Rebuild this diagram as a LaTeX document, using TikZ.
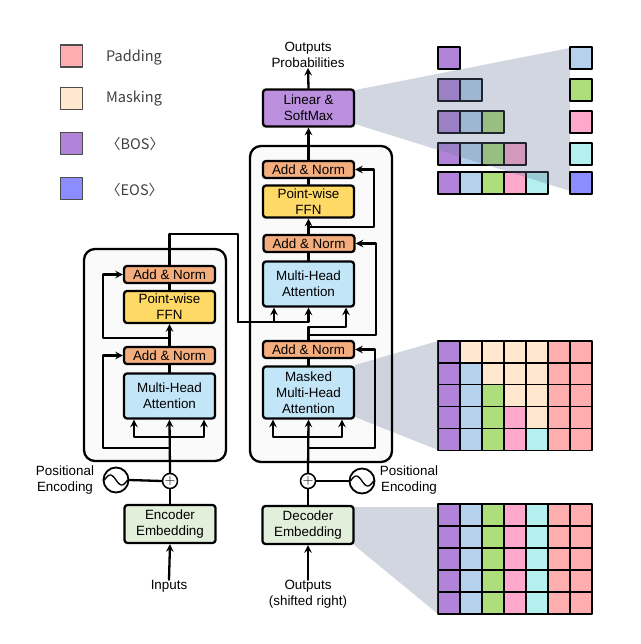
\documentclass[tikz,border=0pt]{standalone}
\usepackage{fontspec}
\setmainfont{Liberation Sans}
\newfontfamily\cjk{Noto Sans CJK SC}
\definecolor{bos}{HTML}{B284D9}
\definecolor{tka}{HTML}{B5D1EC}
\definecolor{tkb}{HTML}{AEDD7B}
\definecolor{tkc}{HTML}{FFA8CE}
\definecolor{tkd}{HTML}{B3F0EE}
\definecolor{eos}{HTML}{8C8CFF}
\definecolor{pad}{HTML}{FFAEB0}
\definecolor{msk}{HTML}{FFE8CE}
\definecolor{wedge}{HTML}{6B7899}
\tikzset{
	block/.style={draw,rounded corners=3pt,line width=2.3pt,align=center,inner sep=0pt,minimum width=91pt},
	addnorm/.style={block,fill={rgb,255:red,244;green,174;blue,126},minimum height=17pt},
	ffn/.style={block,fill={rgb,255:red,255;green,217;blue,102},minimum height=32pt},
	attn/.style={block,fill={rgb,255:red,194;green,230;blue,248}},
	embed/.style={block,fill={rgb,255:red,226;green,239;blue,218},minimum height=38pt},
	proj/.style={block,fill={rgb,255:red,187;green,143;blue,221},minimum height=37pt},
	oplus/.style={draw,circle,fill=white,line width=1.5pt,minimum size=15pt,inner sep=0pt},
	wave/.style={draw,circle,fill=white,line width=1.8pt,minimum size=25pt,inner sep=0pt},
	cell/.style={draw=black,line width=1.2pt},
	swatch/.style={draw=black!70,line width=1.4pt,minimum size=22pt,inner sep=0pt},
	legend/.style={text=black!75,font=\cjk\fontsize{14.5}{16}\selectfont,anchor=west,inner sep=0pt},
	caption/.style={align=center,inner sep=0pt},
	frame/.style={rounded corners=11pt}
}
\begin{document}
\begin{tikzpicture}[>=stealth,line join=round,line cap=round,x=1pt,y=-1pt,font=\fontsize{13.4}{16}\selectfont]
		\useasboundingbox (0,0) rectangle (640,644);
		\def\sq(#1,#2,#3){\draw[cell,fill=#3] (#1,#2) rectangle ++(22,22);}
		% legend
		\node[swatch,fill=pad] (lpad) at (71.5,56) {};
		\node[swatch,fill=msk] (lmsk) at (71.5,98.5) {};
		\node[swatch,fill=bos] (lbos) at (71.5,143.5) {};
		\node[swatch,fill=eos] (leos) at (71.5,188.5) {};
		\node[legend] (tpad) at (106,57.5) {Padding};
		\node[legend] (tmsk) at (106,99) {Masking};
		\node[legend] (tbos) at (106,144) {〈BOS〉};
		\node[legend] (teos) at (106,190) {〈EOS〉};
		% token cells on top right
		\sq(438,47,bos)
		\sq(438,79,bos) \sq(460,79,tka)
		\sq(438,111,bos) \sq(460,111,tka) \sq(482,111,tkb)
		\sq(438,143,bos) \sq(460,143,tka) \sq(482,143,tkb) \sq(504,143,tkc)
		\sq(438,172,bos) \sq(460,172,tka) \sq(482,172,tkb) \sq(504,172,tkc) \sq(526,172,tkd)
		% the two grids
		\foreach \r [count=\j from 0] in {1,2,3,4,5}{
			\foreach \c [count=\i from 0] in {bos,tka,tkb,tkc,tkd,pad,pad}{
				\ifnum\i<\r \def\k{\c}\else\ifnum\i>4 \def\k{pad}\else\def\k{msk}\fi\fi
				\draw[cell,fill=\k] ({438+22*\i},{341+21.9*\j}) rectangle ++(22,21.9);
				\draw[cell,fill=\c] ({438+22*\i},{504+22*\j}) rectangle ++(22,22);
			}
		}
		% frames
		\fill[frame,black!2] (84,249) rectangle (226,461);
		\fill[frame,black!2] (250,146) rectangle (392,462);
		% wedges
		\fill[wedge,opacity=0.3] (355,90)--(570,48)--(570,191)--(355,124)--cycle;
		\fill[wedge,opacity=0.3] (355,365)--(438,341)--(438,450)--(355,417)--cycle;
		\fill[wedge,opacity=0.3] (354,507)--(438,507)--(438,614)--(354,545)--cycle;
		\draw[frame,line width=2.3pt] (84,249) rectangle (226,461);
		\draw[frame,line width=2.3pt] (250,146) rectangle (392,462);
		\sq(570,47,tka) \sq(570,79,tkb) \sq(570,111,tkc) \sq(570,143,tkd) \sq(570,172,eos)
		% encoder
		\node[addnorm] (ean2) at (169.5,274.5) {Add \& Norm};
		\node[ffn] (effn) at (169.5,307) {Point-wise\\FFN};
		\node[addnorm] (ean1) at (169.5,355.5) {Add \& Norm};
		\node[attn,minimum height=45pt] (emha) at (169.5,396) {Multi-Head\\Attention};
		\node[oplus] (eplus) at (170,481) {$+$};
		\node[wave] (ewave) at (116,480) {};
		\node[embed] (eemb) at (170,524) {Encoder\\Embedding};
		\node[caption] (einp) at (169,586) {Inputs};
		\node[caption] (epos) at (65,480.5) {Positional\\Encoding};
		% decoder
		\node[proj] (lin) at (308.5,108) {Linear \&\\SoftMax};
		\node[caption] (prob) at (308,55) {Outputs\\Probabilities};
		\node[addnorm] (dan3) at (308.5,169.5) {Add \& Norm};
		\node[ffn] (dffn) at (308.5,201.5) {Point-wise\\FFN};
		\node[addnorm] (dan2) at (309,243.5) {Add \& Norm};
		\node[attn,minimum height=45pt] (dmha) at (308.5,284) {Multi-Head\\Attention};
		\node[addnorm] (dan1) at (308.5,349.5) {Add \& Norm};
		\node[attn,minimum height=52pt] (dmsk) at (308.5,392.5) {Masked\\Multi-Head\\Attention};
		\node[oplus] (dplus) at (308,481) {$+$};
		\node[wave] (dwave) at (362,481) {};
		\node[embed] (demb) at (308,525) {Decoder\\Embedding};
		\node[caption] (dinp) at (308,594) {Outputs\\(shifted right)};
		\node[caption] (dpos) at (409,480.5) {Positional\\Encoding};
		% sine curves
		\def\f(#1){5*sin(#1*360/23)};
		\draw[line width=1.3pt,smooth,samples=40] plot[domain=-11.5:11.5]({116+\x},{480+\f(\x)});
		\draw[line width=1.3pt,smooth,samples=40] plot[domain=-11.5:11.5]({362+\x},{481+\f(\x)});
		% named points for the branches
		\coordinate (el) at (134,437);
		\coordinate (er) at (204,437);
		\coordinate (ea) at (103,448);
		\coordinate (eb) at (103,338);
		\coordinate (eu) at (238,234);
		\coordinate (dk) at (274,322);
		\coordinate (dl) at (273,437);
		\coordinate (dr) at (342,437);
		\coordinate (da) at (375,448);
		\coordinate (db) at (376,335);
		\coordinate (dc) at (374,227);
		\coordinate (dq) at (346,327);
		% encoder connectors
		\begin{scope}[line width=2.3pt]
		\draw[->] (einp.north)--(eemb.south);
		\draw (eemb.north)--(eplus.south);
		\draw (ewave.east)--(eplus.west);
		\draw[->] (eplus.north)--(emha.south);
		\draw[->] (el-|emha.south)--(el)--(el|-emha.south);
		\draw[->] (el-|emha.south)--(er)--(er|-emha.south);
		\draw[->] (ea-|emha.south)--(ea)--(ea|-ean1.west)--(ean1.west);
		\draw (emha.north)--(ean1.south);
		\draw[->] (ean1.north)--(effn.south);
		\draw[->] (eb-|effn.south)--(eb)--(eb|-ean2.west)--(ean2.west);
		\draw (effn.north)--(ean2.south);
		\draw (ean2.north)--(eu-|ean2.north)--(eu)--(eu|-dk);
		\draw[->] (eu|-dk)--(dk-|dmha.south)--(dmha.south);
		\draw[->] (dk)--(dk|-dmha.south);
		% decoder connectors
		\draw[->] (dinp.north)--(demb.south);
		\draw (demb.north)--(dplus.south);
		\draw (dwave.west)--(dplus.east);
		\draw[->] (dplus.north)--(dmsk.south);
		\draw[->] (dl-|dmsk.south)--(dl)--(dl|-dmsk.south);
		\draw[->] (dl-|dmsk.south)--(dr)--(dr|-dmsk.south);
		\draw[->] (da-|dmsk.south)--(da)--(da|-dan1.east)--(dan1.east);
		\draw (dmsk.north)--(dan1.south);
		\draw (dan1.north)--(dq-|dan1.north);
		\draw[->] (dq-|dan1.north)--(dq)--(dq|-dmha.south);
		\draw[->] (db-|dan1.north)--(db)--(db|-dan2.east)--(dan2.east);
		\draw (dmha.north)--(dmha.north|-dan2.south);
		\draw[->] (dan2.north-|dffn.south)--(dffn.south);
		\draw[->] (dc-|dffn.south)--(dc)--(dc|-dan3.east)--(dan3.east);
		\draw (dffn.north)--(dan3.south);
		\draw[->] (dan3.north)--(lin.south);
		\draw[->] (lin.north)--(prob.south);
		\end{scope}
		\end{tikzpicture}
\end{document}
